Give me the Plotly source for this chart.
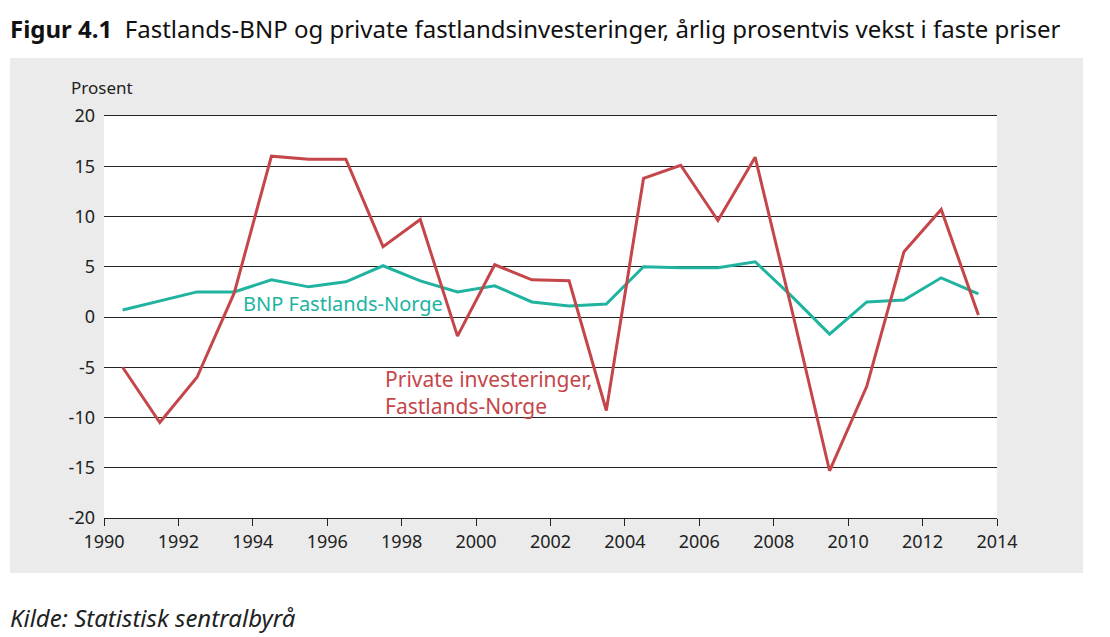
import plotly.graph_objects as go

years = [1990.5 + i for i in range(24)]
bnp = [0.7, 1.6, 2.5, 2.5, 3.7, 3.0, 3.5, 5.1, 3.6, 2.5, 3.1, 1.5, 1.1, 1.3, 5.0, 4.9, 4.9, 5.5, 2.0, -1.7, 1.5, 1.7, 3.9, 2.3]
invest = [-5.0, -10.5, -6.0, 2.4, 16.0, 15.7, 15.7, 7.0, 9.7, -1.9, 5.2, 3.7, 3.6, -9.3, 13.8, 15.1, 9.6, 15.9, 0.5, -15.3, -6.9, 6.5, 10.7, 0.2]
x_ticks = list(range(1990, 2015, 2))
y_ticks = list(range(-20, 21, 5))
y_labels = [str(v) for v in y_ticks]

RED = "#c5464a"
TEAL = "#20b4a0"
FONT = "Noto Sans"

fig = go.Figure()
fig.add_trace(go.Scatter(x=years, y=bnp, mode="lines", line=dict(color=TEAL, width=3), showlegend=False))
fig.add_trace(go.Scatter(x=years, y=invest, mode="lines", line=dict(color=RED, width=3), showlegend=False))

PW = 893.0
PH = 402.0

fig.update_layout(
    width=1110, height=637,
    margin=dict(l=104, r=113, t=116, b=119),
    paper_bgcolor="white", plot_bgcolor="white",
    font=dict(family=FONT, color="#222222", size=18),
    xaxis=dict(range=[1990, 2014], tickvals=x_ticks, showgrid=False, showline=True, mirror=True,
               linecolor="#222222", linewidth=1.2, ticks="outside", ticklen=7, tickwidth=1.2,
               tickcolor="#222222", zeroline=False, tickfont=dict(size=18)),
    yaxis=dict(range=[-20, 20], tickvals=y_ticks, ticktext=y_labels, showgrid=True,
               gridcolor="#222222", gridwidth=1.2, zeroline=False, showline=False, ticks="",
               ticklabelstandoff=8, tickfont=dict(size=18)),
    shapes=[
        dict(type="rect", xref="paper", yref="paper", x0=-94/PW, x1=979/PW,
             y0=-55/PH, y1=460/PH, fillcolor="#ebebeb", line=dict(width=0), layer="below"),
        dict(type="rect", xref="paper", yref="paper", x0=0, x1=1, y0=0, y1=1,
             fillcolor="white", line=dict(width=0), layer="below"),
    ],
)

fig.add_annotation(xref="paper", yref="paper", x=-35/PW, y=(518-87)/PH, xanchor="left", yanchor="middle",
                   text="Prosent", showarrow=False, font=dict(size=17, color="#222222"))
fig.add_annotation(xref="x", yref="y", x=1993.69, y=1.3, xanchor="left", yanchor="middle",
                   text="BNP Fastlands-Norge", showarrow=False, font=dict(size=20, color=TEAL))
fig.add_annotation(xref="x", yref="y", x=1997.51, y=-7.5, xanchor="left", yanchor="middle", align="left",
                   text="Private investeringer,<br>Fastlands-Norge", showarrow=False,
                   font=dict(size=21, color=RED))
fig.add_annotation(xref="paper", yref="paper", x=-96/PW, y=(518-29)/PH, xanchor="left", yanchor="middle",
                   text="<b>Figur 4.1</b>  Fastlands-BNP og private fastlandsinvesteringer, årlig prosentvis vekst i faste priser",
                   showarrow=False, font=dict(size=24, color="#111111"))
fig.add_annotation(xref="paper", yref="paper", x=-96/PW, y=(518-617)/PH, xanchor="left", yanchor="middle",
                   text="<i>Kilde: Statistisk sentralbyrå</i>", showarrow=False, font=dict(size=24, color="#222222"))

fig.write_html("out.html", config={"displayModeBar": False},
               post_script="document.body.style.margin='0px';")
